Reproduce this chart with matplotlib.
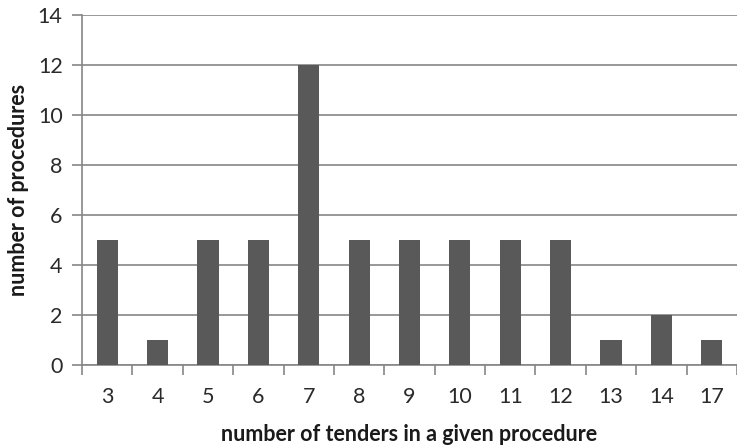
import matplotlib
matplotlib.use("Agg")
import matplotlib.pyplot as plt

categories = ["3", "4", "5", "6", "7", "8", "9", "10", "11", "12", "13", "14", "17"]
values = [5, 1, 5, 5, 12, 5, 5, 5, 5, 5, 1, 2, 1]

plt.rcParams['font.family'] = ['Lato', 'DejaVu Sans']

fig = plt.figure(figsize=(7.37, 4.47), dpi=100)
ax = fig.add_axes([82/737, 82/447, 655/737, 350/447])

x = list(range(len(categories)))
ax.bar(x, values, width=0.42, color="#595959", zorder=3)

ax.set_xlim(-0.5, len(categories) - 0.5)
ax.set_ylim(0, 14)
ax.set_yticks(range(0, 15, 2))
ax.yaxis.grid(True, color="#868686", linewidth=1.2, zorder=0)
ax.set_axisbelow(True)

ax.set_xticks(x)
ax.set_xticklabels(categories, fontsize=15.5, color="#2a2a2a")
ax.tick_params(axis='x', length=0, pad=16)
ax.set_xticks([i - 0.5 for i in range(len(categories) + 1)], minor=True)
ax.tick_params(axis='x', which='minor', length=7, width=1.2, color="#868686", direction='out')
ax.tick_params(axis='y', length=7, width=1.2, color="#868686", labelsize=15.5, labelcolor="#2a2a2a", pad=7)

for s in ['top', 'right']:
    ax.spines[s].set_visible(False)
for s in ['left', 'bottom']:
    ax.spines[s].set_color("#868686")
    ax.spines[s].set_linewidth(1.2)

ax.set_xlabel("number of tenders in a given procedure", fontsize=15.5, fontweight='bold', color="#1a1a1a", labelpad=12)
ax.set_ylabel("number of procedures", fontsize=15.5, fontweight='bold', color="#1a1a1a", labelpad=6)

fig.savefig("out.png", dpi=100)
